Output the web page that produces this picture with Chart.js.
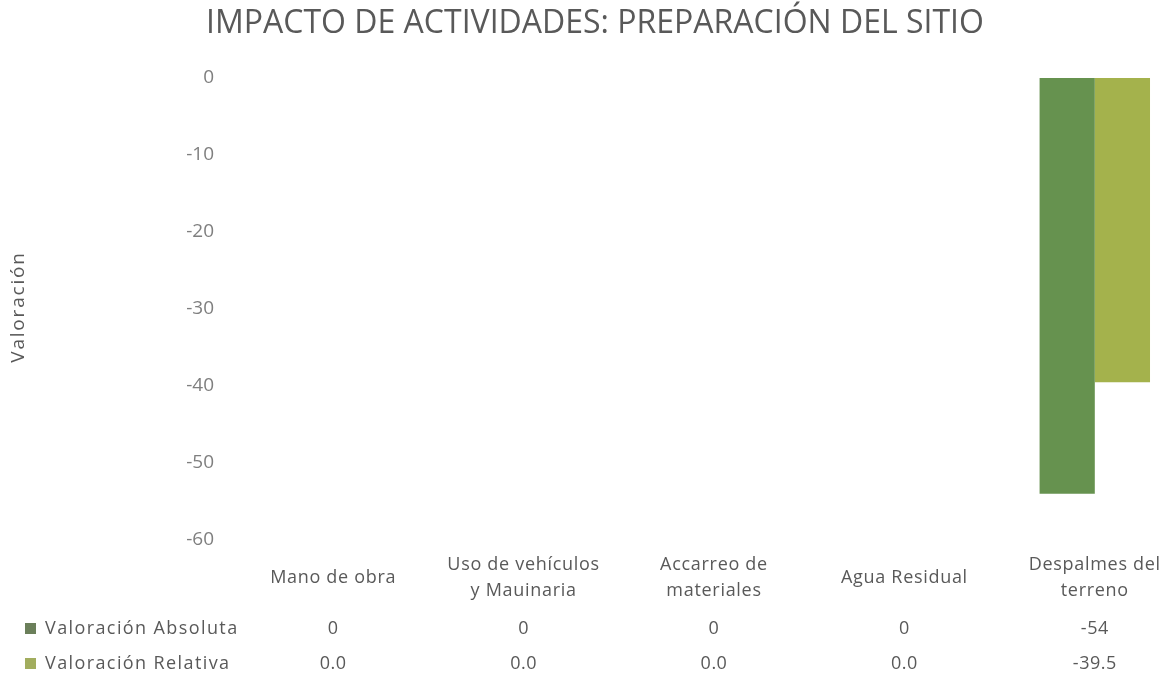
<!DOCTYPE html>
<html lang="es">
<head>
    <meta charset="UTF-8">
    <title>Impacto de actividades</title>
    <script src="https://cdn.jsdelivr.net/npm/chart.js"></script>
    <style>
        body {
            margin: 0;
            background: #fff;
            overflow: hidden;
        }

        .chart-box {
            width: 1190px;
            height: 679px;
        }
    </style>
</head>
<body>
    <div class="chart-box">
        <canvas id="impacto"></canvas>
    </div>

    <script>
        const categories = [
            ['Mano de obra'],
            ['Uso de vehículos', 'y Mauinaria'],
            ['Accarreo de', 'materiales'],
            ['Agua Residual'],
            ['Despalmes del', 'terreno']
        ];
        const seriesNames = ['Valoración Absoluta', 'Valoración Relativa'];
        const absoluta = [0, 0, 0, 0, -54];
        const relativa = [0.0, 0.0, 0.0, 0.0, -39.5];
        const yTicks = [0, -10, -20, -30, -40, -50, -60];

        const barColors = ['#66924f', '#a4b24c'];
        const swatchColors = ['#6b7f5a', '#a2ad5e'];
        const textColor = '#595959';
        const fontFamily = '"Open Sans", sans-serif';

        // axis title, category labels and the data table under the plot
        const dataTable = {
            id: 'dataTable',
            afterDraw(chart) {
                const ctx = chart.ctx;
                const x = chart.scales.x;
                ctx.save();
                ctx.fillStyle = textColor;
                ctx.textBaseline = 'middle';

                // rotated y axis title
                ctx.save();
                ctx.translate(19, 307);
                ctx.rotate(-Math.PI / 2);
                ctx.font = '19px ' + fontFamily;
                ctx.letterSpacing = '1.8px';
                ctx.textAlign = 'center';
                ctx.fillText('Valoración', 0, 0);
                ctx.restore();

                ctx.font = '18px ' + fontFamily;
                ctx.letterSpacing = '0.7px';
                ctx.textAlign = 'center';
                categories.forEach((lines, i) => {
                    const cx = x.getPixelForValue(i);
                    const startY = 578 - (lines.length - 1) * 13;
                    lines.forEach((line, j) => ctx.fillText(line, cx, startY + j * 26));
                });

                const rows = [
                    absoluta.map(v => String(v)),
                    relativa.map(v => v.toFixed(1))
                ];
                const rowY = [629, 664];
                rows.forEach((row, r) => {
                    ctx.letterSpacing = '0.5px';
                    ctx.textAlign = 'center';
                    row.forEach((txt, i) => ctx.fillText(txt, x.getPixelForValue(i), rowY[r]));
                    ctx.fillStyle = swatchColors[r];
                    ctx.fillRect(25, rowY[r] - 6, 11, 11);
                    ctx.fillStyle = textColor;
                    ctx.textAlign = 'left';
                    ctx.letterSpacing = '1.4px';
                    ctx.fillText(seriesNames[r], 45, rowY[r]);
                });
                ctx.restore();
            }
        };

        new Chart(document.getElementById('impacto'), {
            type: 'bar',
            data: {
                labels: categories,
                datasets: [
                    { label: seriesNames[0], data: absoluta, backgroundColor: barColors[0] },
                    { label: seriesNames[1], data: relativa, backgroundColor: barColors[1] }
                ]
            },
            options: {
                responsive: true,
                maintainAspectRatio: false,
                animation: false,
                layout: { padding: 0 },
                datasets: {
                    bar: { categoryPercentage: 0.58, barPercentage: 1.0 }
                },
                plugins: {
                    legend: { display: false },
                    tooltip: { enabled: false },
                    title: {
                        display: true,
                        text: 'IMPACTO DE ACTIVIDADES: PREPARACIÓN DEL SITIO',
                        color: textColor,
                        font: { family: fontFamily, size: 32, weight: 'normal' },
                        padding: { top: 5, bottom: 34.6 }
                    }
                },
                scales: {
                    x: {
                        grid: { display: false },
                        border: { display: false },
                        ticks: { display: false },
                        afterFit: s => { s.height = 139; }
                    },
                    y: {
                        min: -60,
                        max: 0,
                        afterBuildTicks: s => { s.ticks = yTicks.map(v => ({ value: v })); },
                        grid: { display: false },
                        border: { display: false },
                        ticks: {
                            color: '#7f7f7f',
                            padding: 16,
                            font: { family: fontFamily, size: 19 }
                        },
                        afterFit: s => { s.width = 238; }
                    }
                }
            },
            plugins: [dataTable]
        });
    </script>
</body>
</html>
